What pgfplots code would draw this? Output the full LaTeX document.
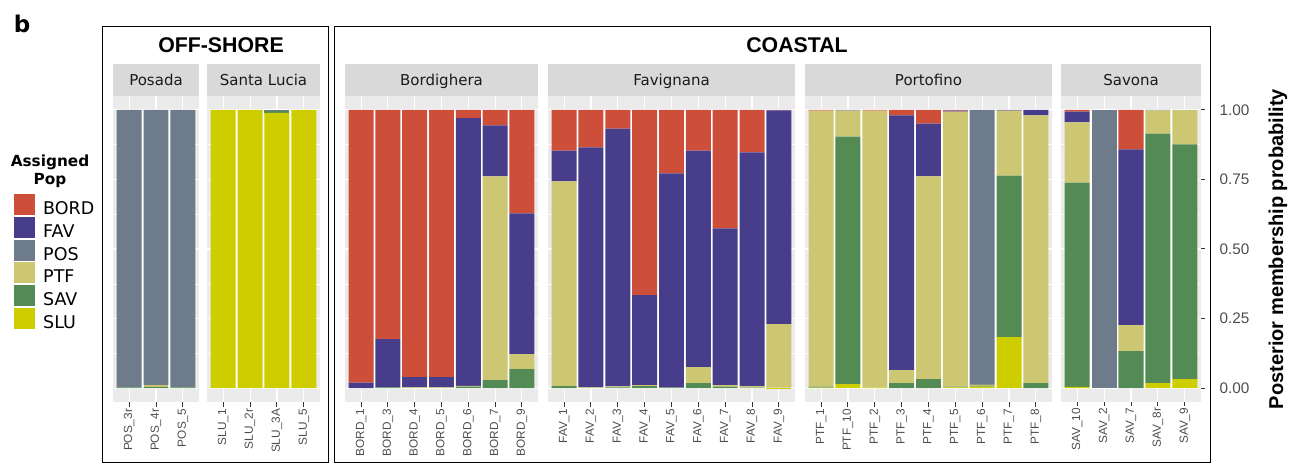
\documentclass[border=0pt]{standalone}
\usepackage{pgfplots}
\pgfplotsset{compat=1.18}
\usepackage{pgfplotstable}
\usepackage{fontspec}
\setmainfont{Liberation Sans}
\newfontfamily\dejavu{DejaVu Sans}

\definecolor{cBORD}{HTML}{CD4F39}
\definecolor{cFAV}{HTML}{483D8B}
\definecolor{cPOS}{HTML}{6E7B8B}
\definecolor{cPTF}{HTML}{CDC673}
\definecolor{cSAV}{HTML}{548B54}
\definecolor{cSLU}{HTML}{CDCD00}
\definecolor{panelbg}{HTML}{EBEBEB}
\definecolor{stripbg}{HTML}{D9D9D9}
\definecolor{ticktext}{HTML}{4D4D4D}
\definecolor{tickmark}{HTML}{333333}
\definecolor{striptext}{HTML}{1A1A1A}

% columns: x BORD FAV POS PTF SAV SLU
\pgfplotstableread{
x BORD FAV POS PTF SAV SLU
1 0 0 0.997 0 0.003 0
2 0 0 0.988 0.008 0.004 0
3 0 0 0.997 0 0.003 0
}\tPOS
\pgfplotstableread{
x BORD FAV POS PTF SAV SLU
1 0 0 0 0 0 1.0
2 0 0 0 0 0 1.0
3 0 0 0.005 0 0.006 0.989
4 0 0 0 0 0 1.0
}\tSLU
\pgfplotstableread{
x BORD FAV POS PTF SAV SLU
1 0.980 0.020 0 0 0 0
2 0.824 0.173 0 0 0.003 0
3 0.961 0.036 0 0.003 0 0
4 0.961 0.036 0 0.003 0 0
5 0.030 0.962 0 0.003 0.005 0
6 0.056 0.183 0 0.732 0.029 0
7 0.372 0.506 0 0.054 0.068 0
}\tBORD
\pgfplotstableread{
x BORD FAV POS PTF SAV SLU
1 0.146 0.111 0 0.736 0.007 0
2 0.135 0.862 0 0.003 0 0
3 0.067 0.927 0 0.003 0.003 0
4 0.666 0.323 0 0.004 0.007 0
5 0.228 0.769 0 0 0.003 0
6 0.146 0.779 0 0.057 0.018 0
7 0.426 0.563 0 0.006 0.005 0
8 0.153 0.840 0 0.005 0.002 0
9 0.002 0.768 0 0.228 0 0.002
}\tFAV
\pgfplotstableread{
x BORD FAV POS PTF SAV SLU
1 0.003 0 0 0.992 0.003 0.002
2 0 0 0.003 0.093 0.890 0.014
3 0.003 0 0 0.995 0 0.002
4 0.020 0.915 0 0.047 0.018 0
5 0.049 0.190 0 0.729 0.032 0
6 0.003 0.003 0 0.989 0.002 0.003
7 0 0 0.988 0.004 0.003 0.005
8 0 0.003 0 0.233 0.581 0.183
9 0 0.020 0 0.962 0.018 0
}\tPTF
\pgfplotstableread{
x BORD FAV POS PTF SAV SLU
1 0.006 0.039 0 0.216 0.735 0.004
2 0 0 1.0 0 0 0
3 0.142 0.632 0 0.093 0.133 0
4 0 0.002 0 0.083 0.897 0.018
5 0 0 0 0.124 0.844 0.032
}\tSAV

\newcommand{\stackbars}[1]{%
  \addplot[fill=cSLU,draw=none] table[x=x,y=SLU]{#1};
  \addplot[fill=cSAV,draw=none] table[x=x,y=SAV]{#1};
  \addplot[fill=cPTF,draw=none] table[x=x,y=PTF]{#1};
  \addplot[fill=cPOS,draw=none] table[x=x,y=POS]{#1};
  \addplot[fill=cFAV,draw=none] table[x=x,y=FAV]{#1};
  \addplot[fill=cBORD,draw=none] table[x=x,y=BORD]{#1};
}

\pgfplotsset{
  panel/.style={
    scale only axis, height=306pt, anchor=south west,
    ybar stacked, bar width=0.93,
    ymin=-0.05, ymax=1.05,
    ytick={0,0.25,0.5,0.75,1},
    minor ytick={0.125,0.375,0.625,0.875},
    ymajorgrids, yminorgrids, xmajorgrids,
    major grid style={white, line width=1.1pt},
    minor grid style={white, line width=0.5pt},
    axis line style={draw=none},
    xtick=data,
    xmin=0.4, xmax=#1+0.6,
    xtick pos=left, ytick pos=right,
    tick align=outside, major tick length=5pt, minor tick length=0pt,
    xtick style={draw=tickmark, line width=1pt},
    ytick style={draw=none},
    yticklabels={},
    xticklabel style={rotate=90, anchor=east, font=\fontsize{11.8}{12}\selectfont, text=ticktext, inner sep=1.8pt},
  },
}

\newcommand{\strip}[3]{% x0, x1, text
  \fill[stripbg] (#1,369) rectangle (#2,401);
  \node[font=\dejavu\fontsize{15}{16}\selectfont, text=striptext, anchor=base] at ({(#1+#2)/2},379.5) {#3};
}
% panel background: x0, width, n categories
\newcommand{\panelbg}[3]{%
  \fill[panelbg] (#1,63) rectangle ({#1+#2},369);
  \pgfmathsetmacro{\mrg}{0.135*#2/(#3+0.2)}
  \fill[white] ({#1+\mrg},76.91) rectangle ({#1+#2-\mrg},355.09);
}

\begin{document}
\begin{tikzpicture}
\begin{scope}[x=1pt,y=1pt]
\useasboundingbox (0,0) rectangle (1303,465);

% label b
\node[font=\dejavu\bfseries\fontsize{23}{24}\selectfont, anchor=base] at (22,432) {b};

% boxes
\draw[black, line width=0.9pt] (102,3) rectangle (328,439);
\draw[black, line width=0.9pt] (334,3) rectangle (1210,439);
\node[font=\bfseries\fontsize{21.3}{22}\selectfont] at (221,420) {OFF-SHORE};
\node[font=\bfseries\fontsize{21.3}{22}\selectfont] at (797,420) {COASTAL};

% strips
\strip{113}{199}{Posada}
\strip{207}{320}{Santa Lucia}
\strip{345}{538}{Bordighera}
\strip{548}{795}{Favignana}
\strip{805}{1052}{Portofino}
\strip{1061}{1201}{Savona}

% panel backgrounds
\panelbg{113}{86}{3}
\panelbg{207}{113}{4}
\panelbg{345}{193}{7}
\panelbg{548}{247}{9}
\panelbg{805}{247}{9}
\panelbg{1061}{140}{5}

% y axis title
\node[font=\bfseries\fontsize{20}{21}\selectfont, rotate=90] at (1278,216) {Posterior membership probability};

% legend
\node[font=\dejavu\bfseries\fontsize{15.3}{16}\selectfont, anchor=base] at (50,298) {Assigned};
\node[font=\dejavu\bfseries\fontsize{15.3}{16}\selectfont, anchor=base] at (50,280) {Pop};
\foreach \c/\n [count=\i from 0] in {cBORD/BORD,cFAV/FAV,cPOS/POS,cPTF/PTF,cSAV/SAV,cSLU/SLU}{
  \pgfmathsetmacro{\ytop}{465-194-22.8*\i}
  \fill[\c] (14,\ytop-21) rectangle (35,\ytop);
  \node[font=\dejavu\fontsize{17.5}{18}\selectfont, anchor=base west, inner sep=0pt] at (43,\ytop-20.5) {\n};
}
\end{scope}

% Posada
\begin{axis}[panel=3, width=86pt, at={(113pt,63pt)},
  xticklabels={POS\_3r,POS\_4r,POS\_5}]
  \stackbars{\tPOS}
\end{axis}

% Santa Lucia
\begin{axis}[panel=4, width=113pt, at={(207pt,63pt)},
  xticklabels={SLU\_1,SLU\_2r,SLU\_3A,SLU\_5}]
  \stackbars{\tSLU}
\end{axis}

% Bordighera
\begin{axis}[panel=7, width=193pt, at={(345pt,63pt)},
  xticklabels={BORD\_1,BORD\_3,BORD\_4,BORD\_5,BORD\_6,BORD\_7,BORD\_9}]
  \stackbars{\tBORD}
\end{axis}

% Favignana
\begin{axis}[panel=9, width=247pt, at={(548pt,63pt)},
  xticklabels={FAV\_1,FAV\_2,FAV\_3,FAV\_4,FAV\_5,FAV\_6,FAV\_7,FAV\_8,FAV\_9}]
  \stackbars{\tFAV}
\end{axis}

% Portofino
\begin{axis}[panel=9, width=247pt, at={(805pt,63pt)},
  xticklabels={PTF\_1,PTF\_10,PTF\_2,PTF\_3,PTF\_4,PTF\_5,PTF\_6,PTF\_7,PTF\_8}]
  \stackbars{\tPTF}
\end{axis}

% Savona with right y axis
\begin{axis}[panel=5, width=140pt, at={(1061pt,63pt)},
  xticklabels={SAV\_10,SAV\_2,SAV\_7,SAV\_8r,SAV\_9},
  ytick style={draw=tickmark, line width=1pt}, major tick length=4pt,
  yticklabels={0.00,0.25,0.50,0.75,1.00},
  yticklabel style={font=\fontsize{15.3}{16}\selectfont, text=ticktext, anchor=west, xshift=11pt},
  ]
  \stackbars{\tSAV}
\end{axis}
\end{tikzpicture}
\end{document}
